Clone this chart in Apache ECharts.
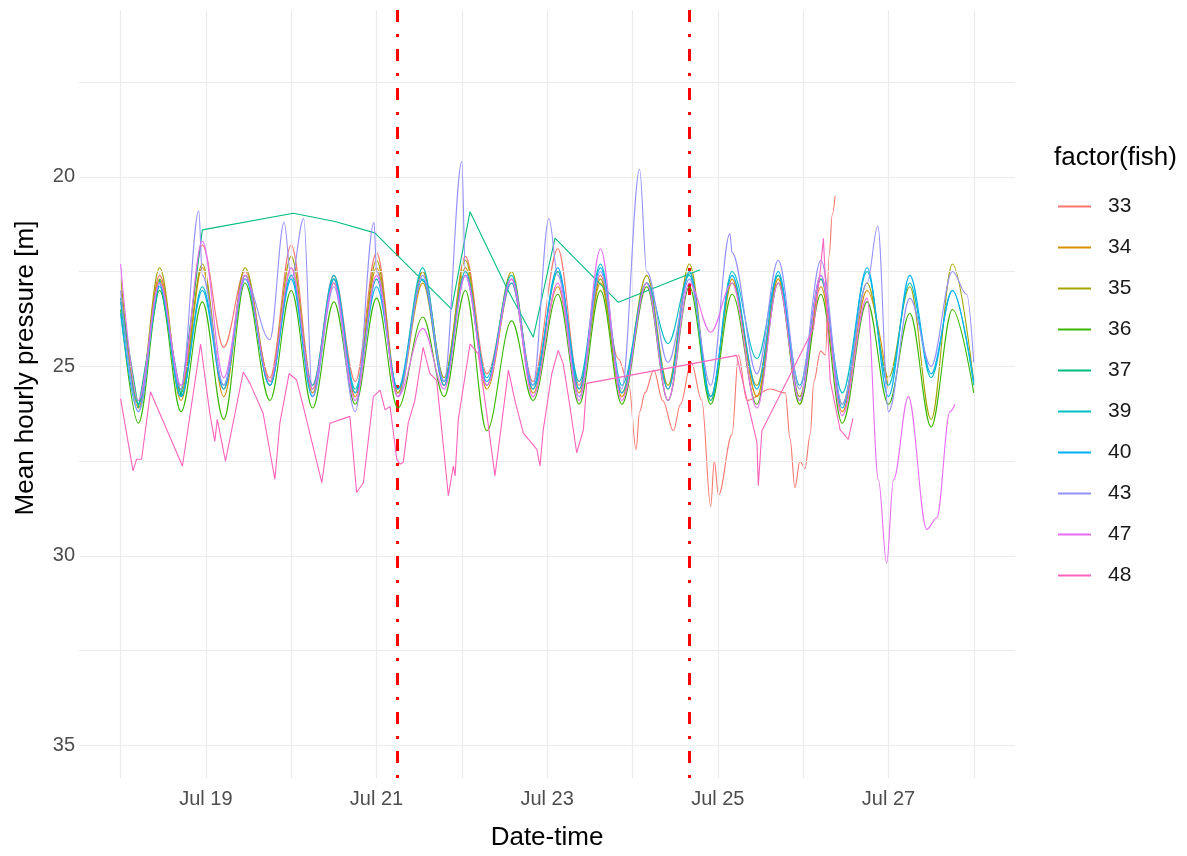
<!DOCTYPE html>
<html>
<head>
<meta charset="utf-8">
<script src="https://cdn.jsdelivr.net/npm/echarts@6/dist/echarts.min.js"></script>
<style>
  html, body { margin: 0; padding: 0; background: #ffffff; }
  #chart { width: 1187px; height: 856px; }
</style>
</head>
<body>
<div id="chart"></div>
<script>
// Hours since Jul 18 00:00; depth = mean hourly pressure in metres.
// Shared high/low tide turning points used by most tagged fish.
const tideHours = [0,5,11,17,23,29,35,42,48,54,60,66,72,78,85,91,97,103,110,116,
                   123,129,135,141,148,154,160,166,172,179,185,191,197,203,210,216,222,228,234,240];

const fish33Band = [23.0,26.0,22.6,25.6,21.8,24.5,22.5,25.3,21.8,25.5,
                    22.6,25.4,22.0,25.7,22.5,25.4,22.1,25.2,22.7,25.4,
                    21.9,25.5,22.6];
const fish33LateHours = [140,143,145,146,147.5,150,152.5,155.5,157.5,160.5,163.5,166,167,168.2,172,173.8,176.2,
                         182.7,187,188.3,189.7,191.1,192.5,194,195,196.9,198.3,199.3,200.2,201];
const fish33LateDepth = [24.8,25.5,27.2,26.2,25.7,25.1,25.9,26.7,26.0,24.9,25.9,28.7,27.5,28.4,26.8,24.7,25.9,
                         25.6,25.7,26.9,28.2,27.5,27.7,26.8,25.4,24.6,24.7,22.1,21.0,20.5];

const fish34 = [22.9,26.1,22.7,25.9,22.4,25.8,22.6,25.5,22.4,25.7,
                22.8,25.8,22.4,25.8,22.8,25.5,22.4,25.6,22.8,25.7,
                22.9,25.7,22.8,25.8,22.8,25.6,22.5,25.9,22.7,25.8,
                22.7,26.0,22.9,26.2,23.0,25.6];

const fish35 = [22.6,26.0,22.4,25.7,22.3,25.6,22.4,25.4,22.1,25.6,
                22.7,25.7,22.2,25.7,22.5,25.3,22.2,25.5,22.5,25.6,
                22.5,25.6,22.7,25.7,22.6,25.5,22.3,25.8,22.8,25.5,
                22.6,25.8,22.7,26.0,22.8,25.3,22.9,26.4,22.3,25.4];

const fish36 = [23.5,26.5,23.0,26.2,23.3,26.4,22.8,25.9,23.0,26.1,
                23.3,26.0,23.2,26.1,23.7,25.8,23.0,26.7,23.8,25.9,
                23.1,26.0,23.0,26.0,22.9,25.9,22.9,26.0,23.1,26.0,
                22.8,26.0,23.1,26.5,23.3,26.0,23.6,26.6,23.5,25.7];

const fish37Hours = [0,5,11,17,23,48.6,60.3,71.5,93.1,98.3,108.6,116.1,122.2,140.0,163.0];
const fish37Depth = [23.2,26.1,22.7,25.8,21.4,20.96,21.18,21.48,23.49,20.92,22.93,24.23,21.62,23.31,22.45];

const fish39 = [23.3,26.0,22.8,25.8,22.9,25.5,22.6,25.5,22.6,25.5,
                22.6,25.6,22.7,25.6,22.4,25.4,22.5,25.3,22.6,25.5,
                22.5,25.4,22.3,25.5,22.8,24.4,22.6,25.9,22.5,24.8,
                22.6,25.5,22.7,25.7,22.5,25.5,22.8,25.3,23.0,25.5];

const fish40 = [23.6,26.2,22.9,25.8,23.0,25.6,22.7,25.5,22.7,25.8,
                22.7,25.7,22.9,25.6,22.7,25.5,22.6,25.4,22.8,25.6,
                22.4,25.6,22.4,25.7,22.8,25.6,22.5,25.8,22.6,25.6,
                22.5,25.9,22.6,26.1,22.4,25.8,22.6,25.2,23.0,25.4];

const fish43 = [23.0,26.2,22.8,25.6,22.6,25.5,22.7,24.3,22.7,25.8,
                22.9,26.2,22.5,25.8,22.6,25.4,22.6,25.5,22.7,25.5,
                22.6,25.8,22.5,25.6,22.5,24.9,22.7,25.5,22.0,25.2,
                22.2,25.6,22.2,26.0,22.8,26.2,23.2,25.0,22.5,24.9];
const fish43PeakHours = [22,46,51.5,71.3,96,120.5,146,171.4,213,238];
const fish43PeakDepth = [20.9,21.2,21.1,21.2,19.6,21.1,19.8,21.5,21.3,23.1];

const fish47Band = [22.3,25.9,22.8,25.5,21.7,25.3,22.6,25.4,22.4,25.6,
                    22.8,25.9,22.6,25.8,24.0,25.6,22.6,25.5,22.7,25.8,
                    22.8,25.9,21.9,25.9,22.8,25.9,22.8,24.1,22.8,26.1,
                    22.8,25.9,22.6,26.3,23.2];
const fish47LateHours = [213.2,215.5,217.4,221.6,226.8,229.6,233.3,234.7];
const fish47LateDepth = [28.0,30.2,28.0,25.8,29.3,29.0,26.2,26.0];

const fish48Hours = [0,3.5,4.5,5.9,8.4,17.4,22.5,25.1,26.5,27.2,
                     29.5,34.5,36.4,40.1,43.4,44.8,47.4,49.5,51.4,56.6,
                     58.9,64.5,66.4,68.3,71.1,73.0,74.4,75.8,77.7,78.6,
                     79.5,80.9,82.8,85.1,87.0,88.9,90.8,92.2,93.6,94.1,
                     95.0,98.3,100.6,103.0,105.3,109.1,110.9,113.3,117.1,118.0,
                     118.9,121.3,123.1,124.5,126.4,128.3,130.2,131.1,173.3,177.1,
                     179.0,179.4,180.4,194.9,196.8,197.7,199.6,202.4,204.7,206.0];
const fish48Depth = [25.85,27.76,27.45,27.45,25.67,27.63,24.41,26.24,26.98,26.4,
                     27.5,25.15,25.45,26.24,27.98,26.5,25.19,25.36,26.06,28.07,
                     26.5,26.32,28.33,28.07,25.8,25.63,26.15,26.06,27.45,27.58,
                     27.54,26.5,25.89,24.5,25.19,25.37,27.1,28.41,27.63,27.89,
                     26.4,24.41,24.67,26.24,27.89,25.1,25.89,26.76,27.19,27.63,
                     26.67,25.19,24.58,24.93,26.06,27.28,26.67,25.45,24.71,26.24,
                     27.0,28.15,26.7,24.0,22.5,21.62,25.37,26.67,26.93,26.37];

// Event markers (hours since Jul 18 00:00)
const eventHours = [77.7, 160];

// Axis ticks
const dayTickHours = [24, 72, 120, 168, 216];
const dayTickLabels = ['Jul 19', 'Jul 21', 'Jul 23', 'Jul 25', 'Jul 27'];
const minorDayHours = [0, 48, 96, 144, 192, 240];
const depthTicks = [20, 25, 30, 35];
const depthMinor = [17.5, 22.5, 27.5, 32.5];

const fishNames = ['33','34','35','36','37','39','40','43','47','48'];
const fishColors = ['#F8766D','#D89000','#A3A500','#39B600','#00BF7D','#00BFC4','#00B0F6','#9590FF','#E76BF3','#FF62BC'];
// fish whose records are tidal turning points get a rounded curve between them
const tidalCurve = { '33': true, '34': true, '35': true, '36': true, '39': true, '40': true, '43': true, '47': true };

function zipPoints(hours, depth) {
  return depth.map((d, i) => [hours[i], d]);
}
function mergePoints(a, b) {
  return a.concat(b).sort((p, q) => p[0] - q[0]);
}

const fishData = {
  '33': mergePoints(zipPoints(tideHours, fish33Band), zipPoints(fish33LateHours, fish33LateDepth)),
  '34': zipPoints(tideHours, fish34),
  '35': zipPoints(tideHours, fish35),
  '36': zipPoints(tideHours, fish36),
  '37': zipPoints(fish37Hours, fish37Depth),
  '39': zipPoints(tideHours, fish39),
  '40': zipPoints(tideHours, fish40),
  '43': mergePoints(zipPoints(tideHours, fish43), zipPoints(fish43PeakHours, fish43PeakDepth)),
  '47': mergePoints(zipPoints(tideHours, fish47Band), zipPoints(fish47LateHours, fish47LateDepth)),
  '48': zipPoints(fish48Hours, fish48Depth)
};

const FONT = '"Liberation Sans", Arial, sans-serif';

const gridLines = [];
dayTickHours.concat(minorDayHours).forEach(h => gridLines.push({ xAxis: h }));
depthTicks.concat(depthMinor).forEach(v => gridLines.push({ yAxis: v }));

const series = [{
  type: 'line',
  data: [],
  silent: true,
  z: 1,
  markLine: {
    silent: true,
    symbol: ['none', 'none'],
    label: { show: false },
    lineStyle: { color: '#EBEBEB', width: 1.2, type: 'solid' },
    emphasis: { disabled: true },
    data: gridLines
  }
}];

fishNames.forEach((name, i) => {
  const s = {
    name: name,
    type: 'line',
    data: fishData[name],
    showSymbol: false,
    symbol: 'none',
    z: 2 + i,
    lineStyle: { color: fishColors[i], width: 1.1 },
    itemStyle: { color: fishColors[i] },
    emphasis: { disabled: true }
  };
  if (tidalCurve[name]) {
    s.smooth = 0.35;
    s.smoothMonotone = 'x';
  }
  series.push(s);
});

series.push({
  type: 'line',
  data: [],
  silent: true,
  z: 20,
  markLine: {
    silent: true,
    symbol: ['none', 'none'],
    label: { show: false },
    lineStyle: { color: '#FF0000', width: 3, type: [12, 12, 3, 12] },
    emphasis: { disabled: true },
    data: eventHours.map(h => ({ xAxis: h }))
  }
});

const chart = echarts.init(document.getElementById('chart'), null, { renderer: 'canvas' });
chart.setOption({
  animation: false,
  backgroundColor: '#ffffff',
  textStyle: { fontFamily: FONT },
  grid: { left: 79, right: 172, top: 10, bottom: 71, containLabel: false },
  xAxis: {
    type: 'value',
    min: -11.7,
    max: 251.6,
    name: 'Date-time',
    nameLocation: 'middle',
    nameGap: 47,
    nameTextStyle: { fontSize: 26, color: '#000000', fontFamily: FONT },
    axisLine: { show: false },
    axisTick: { show: false },
    splitLine: { show: false },
    axisLabel: {
      customValues: dayTickHours,
      formatter: v => dayTickLabels[dayTickHours.indexOf(Math.round(v))] || '',
      color: '#4D4D4D',
      fontSize: 20,
      margin: 11,
      fontFamily: FONT
    }
  },
  yAxis: {
    type: 'value',
    inverse: true,
    min: 15.6,
    max: 35.86,
    axisLine: { show: false },
    axisTick: { show: false },
    splitLine: { show: false },
    axisLabel: {
      customValues: depthTicks,
      color: '#4D4D4D',
      fontSize: 20,
      margin: 4,
      fontFamily: FONT
    }
  },
  legend: {
    data: fishNames,
    orient: 'vertical',
    left: 1058,
    top: 196,
    padding: 0,
    icon: 'rect',
    itemWidth: 33,
    itemHeight: 2,
    itemGap: 20,
    selectedMode: false,
    textStyle: { fontSize: 21, lineHeight: 21, color: '#1A1A1A', padding: [0, 0, 0, 12], fontFamily: FONT }
  },
  graphic: [{
    type: 'text',
    left: 1054,
    top: 145,
    style: { text: 'factor(fish)', fontSize: 26, fill: '#000000', fontFamily: FONT }
  }, {
    type: 'text',
    x: 26,
    y: 368,
    rotation: Math.PI / 2,
    style: {
      text: 'Mean hourly pressure [m]',
      fontSize: 26,
      fill: '#000000',
      fontFamily: FONT,
      align: 'center',
      verticalAlign: 'middle'
    }
  }],
  series: series
});
</script>
</body>
</html>
